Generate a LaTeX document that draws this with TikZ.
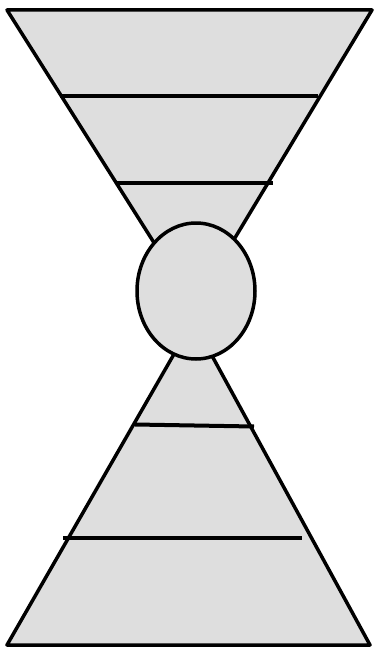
\documentclass[tikz,border=0pt]{standalone}
\usetikzlibrary{shapes.geometric}
\begin{document}
\begin{tikzpicture}[x=1pt,y=-1pt,
  funnel/.style={fill=black!13,draw=black,line width=3.5pt,line join=round},
  bar/.style={draw=black,line width=4.6pt}]
\useasboundingbox (0,0) rectangle (373,647);
% top funnel
\draw[funnel] (7,10) -- (372,10) -- (194,306) -- cycle;
\draw[bar] (60,96) -- (318,96);
\draw[bar] (116,183) -- (273,183);
% bottom funnel
\draw[funnel] (7,645) -- (370,645) -- (193,321) -- cycle;
\draw[bar,line width=4pt] (135,424.5) -- (254,426.5);
\draw[bar] (63,538) -- (302,538);
% centre
\node[funnel,ellipse,minimum width=118pt,minimum height=136pt,inner sep=0pt] (c) at (196,291) {};
\end{tikzpicture}
\end{document}
